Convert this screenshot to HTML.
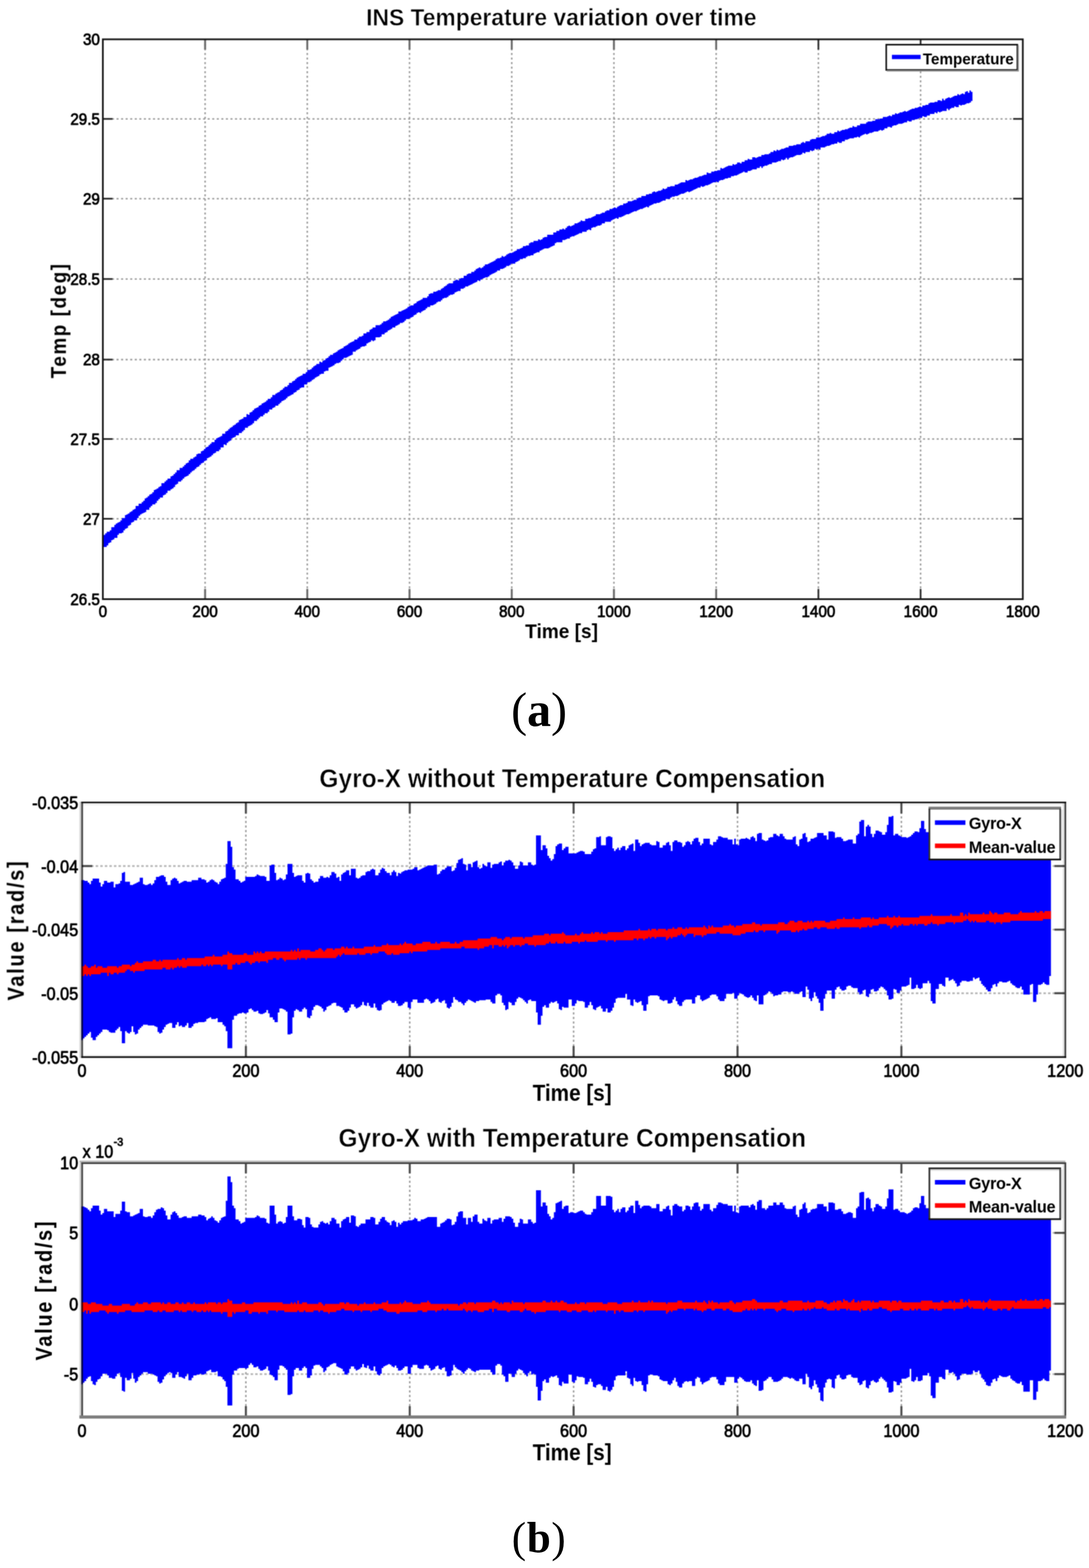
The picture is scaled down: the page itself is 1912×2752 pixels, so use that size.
<!DOCTYPE html>
<html lang="en"><head><meta charset="utf-8"><title>INS temperature variation and Gyro-X temperature compensation</title>
<style>html,body{margin:0;padding:0;background:#fff}body{width:1912px;height:2752px;overflow:hidden}svg{display:block}text{font-family:"Liberation Sans", Arial, Helvetica, sans-serif;font-weight:bold;fill:#000}text.tt{stroke:#fff;stroke-width:0.7px}text.k{font-weight:normal;stroke:#000;stroke-width:1.1px;stroke-linejoin:round}text.kb{font-weight:bold}text.cap{font-family:"Liberation Serif", "Times New Roman", serif;font-weight:normal}.g{stroke:#9a9a9a;stroke-width:2.6;stroke-dasharray:3.6 4.4}.gh{stroke:#b4b4b4;stroke-width:3;stroke-dasharray:4.4 3.6}.t{stroke:#2a2a2a;stroke-width:3}.tg{stroke:#6a6a6a;stroke-width:3.4}.t2{stroke:#4c4c4c;stroke-width:3.6}.ax{fill:none;stroke:#141414;stroke-width:3}.ax3{fill:none;stroke:#4a4a4a;stroke-width:4.6}.lg{fill:#fff;stroke:#0c0c0c;stroke-width:2.7}.ls{fill:none;stroke:#8a8a8a;stroke-width:2.4}</style>
</head><body>
<svg width="1912" height="2752" viewBox="0 0 1912 2752" role="img" aria-label="INS temperature variation over time, and Gyro-X with and without temperature compensation">
<defs><filter id="b1" filterUnits="userSpaceOnUse" x="0" y="0" width="1912" height="1160" color-interpolation-filters="sRGB"><feConvolveMatrix order="3" kernelMatrix="1 2 1 2 4 2 1 2 1" divisor="16" edgeMode="duplicate" preserveAlpha="false"/></filter><filter id="b2" filterUnits="userSpaceOnUse" x="0" y="1320" width="1912" height="630" color-interpolation-filters="sRGB"><feConvolveMatrix order="3" kernelMatrix="1 2 1 2 4 2 1 2 1" divisor="16" edgeMode="duplicate" preserveAlpha="false"/></filter><filter id="b3" filterUnits="userSpaceOnUse" x="0" y="1950" width="1912" height="640" color-interpolation-filters="sRGB"><feConvolveMatrix order="3" kernelMatrix="1 2 1 2 4 2 1 2 1" divisor="16" edgeMode="duplicate" preserveAlpha="false"/></filter></defs>
<rect width="1912" height="2752" fill="#fff"/>
<g filter="url(#b1)">
<line class="g" x1="360.1" y1="69" x2="360.1" y2="1051.6"/>
<line class="g" x1="539.5" y1="69" x2="539.5" y2="1051.6"/>
<line class="g" x1="719" y1="69" x2="719" y2="1051.6"/>
<line class="g" x1="898.5" y1="69" x2="898.5" y2="1051.6"/>
<line class="g" x1="1077.9" y1="69" x2="1077.9" y2="1051.6"/>
<line class="g" x1="1257.4" y1="69" x2="1257.4" y2="1051.6"/>
<line class="g" x1="1436.9" y1="69" x2="1436.9" y2="1051.6"/>
<line class="g" x1="1616.3" y1="69" x2="1616.3" y2="1051.6"/>
<line class="g" x1="180.6" y1="208.7" x2="1795.8" y2="208.7"/>
<line class="g" x1="180.6" y1="348.7" x2="1795.8" y2="348.7"/>
<line class="g" x1="180.6" y1="489.7" x2="1795.8" y2="489.7"/>
<line class="g" x1="180.6" y1="631.1" x2="1795.8" y2="631.1"/>
<line class="g" x1="180.6" y1="770.5" x2="1795.8" y2="770.5"/>
<line class="g" x1="180.6" y1="910.5" x2="1795.8" y2="910.5"/>
<line class="t tg" x1="360.1" y1="1051.6" x2="360.1" y2="1033.6"/>
<line class="t tg" x1="360.1" y1="69" x2="360.1" y2="87"/>
<line class="t tg" x1="539.5" y1="1051.6" x2="539.5" y2="1033.6"/>
<line class="t tg" x1="539.5" y1="69" x2="539.5" y2="87"/>
<line class="t tg" x1="719" y1="1051.6" x2="719" y2="1033.6"/>
<line class="t tg" x1="719" y1="69" x2="719" y2="87"/>
<line class="t tg" x1="898.5" y1="1051.6" x2="898.5" y2="1033.6"/>
<line class="t tg" x1="898.5" y1="69" x2="898.5" y2="87"/>
<line class="t tg" x1="1077.9" y1="1051.6" x2="1077.9" y2="1033.6"/>
<line class="t tg" x1="1077.9" y1="69" x2="1077.9" y2="87"/>
<line class="t tg" x1="1257.4" y1="1051.6" x2="1257.4" y2="1033.6"/>
<line class="t tg" x1="1257.4" y1="69" x2="1257.4" y2="87"/>
<line class="t" x1="1436.9" y1="1051.6" x2="1436.9" y2="1033.6"/>
<line class="t" x1="1436.9" y1="69" x2="1436.9" y2="87"/>
<line class="t" x1="1616.3" y1="1051.6" x2="1616.3" y2="1033.6"/>
<line class="t" x1="1616.3" y1="69" x2="1616.3" y2="87"/>
<line class="t" x1="180.6" y1="208.7" x2="197.6" y2="208.7"/>
<line class="t" x1="1795.8" y1="208.7" x2="1778.8" y2="208.7"/>
<line class="t" x1="180.6" y1="348.7" x2="197.6" y2="348.7"/>
<line class="t" x1="1795.8" y1="348.7" x2="1778.8" y2="348.7"/>
<line class="t" x1="180.6" y1="489.7" x2="197.6" y2="489.7"/>
<line class="t" x1="1795.8" y1="489.7" x2="1778.8" y2="489.7"/>
<line class="t" x1="180.6" y1="631.1" x2="197.6" y2="631.1"/>
<line class="t" x1="1795.8" y1="631.1" x2="1778.8" y2="631.1"/>
<line class="t" x1="180.6" y1="770.5" x2="197.6" y2="770.5"/>
<line class="t" x1="1795.8" y1="770.5" x2="1778.8" y2="770.5"/>
<line class="t" x1="180.6" y1="910.5" x2="197.6" y2="910.5"/>
<line class="t" x1="1795.8" y1="910.5" x2="1778.8" y2="910.5"/>
<path fill="#0000ff" d="M179.4 941.3H182.1V938.7H184.7V936H187.4V933.3H192.7V930.7H195.4V925.3H200.7V921.3H203.4V918.7H206.1V917.3H208.7V916H211.4V913.3H214.1V909.3H219.4V904H222.1V902.7H224.7V901.3H227.4V898.7H230.1V897.3H232.7V894.7H235.4V893.3H238.1V888H243.4V884H248.7V881.3H251.4V878.7H254.1V874.7H256.7V873.3H259.4V870.7H262.1V868H264.7V866.7H267.4V864H270.1V860H272.7V858.7H275.4V857.3H278.1V854.7H280.7V853.3H283.4V848H288.7V845.3H291.4V842.7H294.1V840H299.4V836H302.1V834.7H304.7V832H307.4V829.3H310.1V825.3H315.4V821.3H320.7V818.7H323.4V816H326.1V813.3H328.7V812H331.4V808H334.1V805.3H339.4V802.7H342.1V801.3H344.7V797.3H347.4V796H352.7V792H355.4V790.7H358.1V788H360.7V785.3H363.4V784H366.1V781.3H368.7V778.7H371.4V776H376.7V772H379.4V769.3H382.1V768H384.7V766.7H387.4V765.3H390.1V761.3H395.4V757.3H398.1V756H400.7V753.3H403.4V750.7H406.1V749.3H408.7V746.7H411.4V745.3H414.1V742.7H416.7V741.3H419.4V737.3H422.1V736H424.7V734.7H427.4V732H432.7V726.7H435.4V728H438.1V724H440.7V722.7H443.4V720H446.1V717.3H448.7V716H451.4V714.7H454.1V712H456.7V710.7H459.4V708H462.1V706.7H464.7V705.3H467.4V702.7H470.1V700H475.4V697.3H478.1V693.3H483.4V690.7H486.1V689.3H488.7V688H491.4V685.3H494.1V684H496.7V681.3H499.4V678.7H504.7V676H507.4V672H512.7V669.3H515.4V668H518.1V665.3H520.7V662.7H523.4V661.3H526.1V660H528.7V658.7H531.4V656H536.7V653.3H539.4V649.3H544.7V648H547.4V645.3H550.1V642.7H552.7V641.3H555.4V638.7H560.7V634.7H563.4V636H566.1V633.3H568.7V632H571.4V629.3H574.1V628H576.7V625.3H579.4V622.7H584.7V620H587.4V618.7H590.1V617.3H592.7V614.7H595.4V613.3H598.1V612H600.7V610.7H603.4V608H606.1V606.7H608.7V605.3H611.4V602.7H614.1V601.3H616.7V600H619.4V598.7H622.1V596H627.4V593.3H630.1V590.7H635.4V589.3H638.1V585.3H643.4V582.7H648.7V578.7H651.4V577.3H654.1V574.7H659.4V570.7H667.4V569.3H670.1V566.7H672.7V564H678.1V562.7H680.7V561.3H683.4V558.7H686.1V556H688.7V554.7H691.4V553.3H694.1V552H696.7V550.7H699.4V546.7H704.7V545.3H707.4V544H710.1V542.7H712.7V541.3H715.4V538.7H718.1V537.3H720.7V536H726.1V533.3H728.7V532H731.4V529.3H734.1V528H736.7V526.7H739.4V525.3H742.1V522.7H750.1V520H752.7V516H755.4V514.7H760.7V512H766.1V510.7H768.7V509.3H774.1V506.7H776.7V505.3H779.4V502.7H782.1V501.3H784.7V498.7H787.4V497.3H795.4V493.3H798.1V492H800.7V490.7H803.4V492H806.1V489.3H808.7V488H814.1V484H819.4V481.3H822.1V480H827.4V477.3H832.7V474.7H835.4V472H838.1V470.7H840.7V469.3H843.4V470.7H846.1V469.3H848.7V466.7H851.4V464H856.7V462.7H859.4V461.3H862.1V460H864.7V458.7H867.4V457.3H870.1V454.7H872.7V453.3H878.1V452H880.7V449.3H883.4V450.7H886.1V449.3H888.7V446.7H891.4V445.3H894.1V444H899.4V442.7H902.1V441.3H904.7V440H907.4V437.3H912.7V436H915.4V434.7H918.1V432H923.4V430.7H928.7V426.7H931.4V425.3H936.7V422.7H944.7V420H947.4V421.3H950.1V420H952.7V417.3H955.4V416H960.7V412H971.4V408H976.7V405.3H982.1V402.7H987.4V401.3H990.1V402.7H992.7V400H995.4V397.3H998.1V396H1000.7V397.3H1003.4V396H1006.1V394.7H1008.7V392H1014.1V390.7H1016.7V389.3H1019.4V386.7H1022.1V388H1027.4V384H1032.7V382.7H1038.1V381.3H1040.7V380H1043.4V378.7H1046.1V376H1054.1V374.7H1056.7V373.3H1062.1V370.7H1064.7V369.3H1070.1V366.7H1075.4V365.3H1078.1V364H1080.7V365.3H1083.4V362.7H1086.1V361.3H1088.7V360H1094.1V357.3H1099.4V356H1102.1V353.3H1110.1V352H1112.7V350.7H1118.1V348H1120.7V346.7H1126.1V344H1134.1V341.3H1139.4V340H1144.7V337.3H1147.4V336H1150.1V337.3H1152.7V336H1155.4V334.7H1160.7V333.3H1163.4V330.7H1166.1V332H1168.7V330.7H1171.4V328H1176.7V326.7H1184.7V324H1190.1V322.7H1192.7V321.3H1195.4V320H1203.4V316H1206.1V317.3H1208.7V316H1211.4V314.7H1216.7V313.3H1219.4V312H1224.7V310.7H1227.4V309.3H1232.7V308H1235.4V306.7H1240.7V302.7H1243.4V304H1248.7V301.3H1254.1V300H1259.4V298.7H1264.7V294.7H1267.4V296H1270.1V294.7H1272.7V293.3H1275.4V292H1278.1V290.7H1286.1V288H1288.7V289.3H1291.4V288H1294.1V285.3H1299.4V286.7H1302.1V284H1307.4V281.3H1312.7V278.7H1315.4V280H1320.7V276H1326.1V277.3H1328.7V276H1331.4V274.7H1336.7V272H1342.1V270.7H1350.1V269.3H1352.7V266.7H1358.1V264H1360.7V265.3H1363.4V262.7H1366.1V264H1368.7V262.7H1371.4V261.3H1376.7V260H1379.4V258.7H1384.7V256H1392.7V254.7H1398.1V253.3H1406.1V250.7H1408.7V249.3H1411.4V250.7H1414.1V248H1422.1V245.3H1424.7V244H1432.7V241.3H1440.7V240H1443.4V238.7H1448.7V237.3H1451.4V234.7H1456.7V233.3H1459.4V234.7H1464.7V232H1470.1V229.3H1472.7V230.7H1475.4V229.3H1478.1V228H1483.4V226.7H1488.7V225.3H1491.4V224H1496.7V221.3H1499.4V222.7H1504.7V220H1510.1V217.3H1520.7V214.7H1523.4V213.3H1531.4V212H1536.7V209.3H1544.7V208H1550.1V205.3H1558.1V204H1560.7V202.7H1563.4V204H1566.1V201.3H1571.4V198.7H1574.1V200H1576.7V198.7H1579.4V197.3H1584.7V196H1587.4V194.7H1590.1V196H1592.7V194.7H1595.4V193.3H1598.1V192H1600.7V190.7H1606.1V189.3H1611.4V188H1614.1V186.7H1616.7V188H1619.4V185.3H1624.7V184H1630.1V181.3H1632.7V180H1640.7V178.7H1646.1V176H1651.4V177.3H1654.1V173.3H1656.7V176H1659.4V173.3H1662.1V172H1664.7V170.7H1667.4V172H1670.1V170.7H1672.7V169.3H1675.4V168H1680.7V165.3H1683.4V166.7H1686.1V165.3H1688.7V164H1691.4V165.3H1694.1V161.3H1696.7V160H1699.4V162.7H1702.1V158.7H1704.7V161.3H1707.4V177.3H1704.7V180H1702.1V181.3H1696.7V182.7H1694.1V184H1688.7V185.3H1686.1V184H1683.4V188H1678.1V186.7H1675.4V189.3H1670.1V190.7H1667.4V193.3H1664.7V190.7H1662.1V194.7H1654.1V196H1651.4V197.3H1648.7V196H1646.1V198.7H1643.4V197.3H1640.7V200H1632.7V202.7H1627.4V205.3H1622.1V204H1619.4V206.7H1614.1V208H1611.4V209.3H1606.1V210.7H1600.7V213.3H1595.4V212H1592.7V214.7H1587.4V216H1584.7V217.3H1576.7V218.7H1574.1V220H1568.7V221.3H1566.1V224H1563.4V222.7H1558.1V225.3H1552.7V228H1550.1V229.3H1547.4V228H1544.7V229.3H1542.1V230.7H1534.1V232H1531.4V233.3H1526.1V234.7H1523.4V236H1520.7V234.7H1518.1V236H1515.4V237.3H1512.7V238.7H1510.1V241.3H1507.4V240H1504.7V241.3H1499.4V242.7H1491.4V244H1488.7V245.3H1483.4V248H1478.1V250.7H1472.7V249.3H1470.1V252H1464.7V253.3H1459.4V254.7H1456.7V256H1451.4V257.3H1448.7V258.7H1440.7V262.7H1438.1V261.3H1435.4V262.7H1432.7V261.3H1430.1V264H1427.4V265.3H1424.7V264H1422.1V266.7H1414.1V269.3H1411.4V268H1408.7V270.7H1406.1V272H1398.1V273.3H1395.4V274.7H1392.7V276H1387.4V277.3H1384.7V280H1382.1V277.3H1379.4V280H1376.7V281.3H1374.1V280H1371.4V282.7H1366.1V284H1363.4V285.3H1355.4V288H1350.1V289.3H1347.4V290.7H1342.1V292H1339.4V294.7H1336.7V292H1334.1V294.7H1328.7V297.3H1320.7V298.7H1318.1V300H1312.7V302.7H1307.4V301.3H1304.7V302.7H1302.1V304H1299.4V305.3H1296.7V306.7H1294.1V308H1288.7V309.3H1283.4V312H1278.1V313.3H1272.7V314.7H1270.1V316H1264.7V317.3H1262.1V320H1259.4V318.7H1256.7V320H1251.4V321.3H1248.7V322.7H1246.1V324H1243.4V325.3H1238.1V326.7H1235.4V328H1232.7V326.7H1230.1V329.3H1224.7V330.7H1222.1V332H1219.4V333.3H1216.7V334.7H1214.1V336H1211.4V337.3H1208.7V336H1206.1V337.3H1203.4V338.7H1200.7V340H1195.4V341.3H1192.7V342.7H1190.1V344H1184.7V345.3H1179.4V346.7H1176.7V349.3H1168.7V352H1163.4V353.3H1160.7V354.7H1158.1V356H1152.7V357.3H1147.4V358.7H1144.7V360H1142.1V361.3H1139.4V364H1136.7V362.7H1134.1V364H1131.4V365.3H1128.7V366.7H1123.4V368H1120.7V369.3H1118.1V370.7H1112.7V372H1110.1V373.3H1107.4V374.7H1104.7V376H1099.4V377.3H1096.7V378.7H1094.1V380H1091.4V381.3H1086.1V384H1083.4V382.7H1080.7V384H1078.1V385.3H1075.4V386.7H1072.7V389.3H1062.1V392H1056.7V394.7H1054.1V396H1048.7V397.3H1046.1V398.7H1040.7V400H1038.1V404H1035.4V402.7H1032.7V404H1030.1V406.7H1022.1V409.3H1016.7V410.7H1014.1V412H1011.4V413.3H1008.7V414.7H1003.4V416H1000.7V418.7H995.4V420H992.7V421.3H987.4V425.3H976.7V426.7H974.1V430.7H971.4V432H968.7V433.3H966.1V434.7H963.4V436H955.4V437.3H952.7V438.7H950.1V440H947.4V442.7H942.1V444H939.4V445.3H936.7V448H931.4V449.3H926.1V450.7H923.4V453.3H918.1V454.7H912.7V457.3H910.1V458.7H907.4V460H904.7V462.7H896.7V465.3H894.1V466.7H888.7V469.3H886.1V470.7H883.4V472H878.1V474.7H872.7V477.3H870.1V478.7H867.4V480H864.7V481.3H862.1V482.7H859.4V485.3H856.7V486.7H851.4V488H848.7V489.3H846.1V490.7H843.4V493.3H840.7V492H838.1V494.7H835.4V496H832.7V497.3H830.1V498.7H827.4V500H824.7V501.3H822.1V502.7H816.7V505.3H814.1V506.7H808.7V510.7H803.4V512H800.7V513.3H798.1V516H795.4V517.3H790.1V518.7H787.4V521.3H784.7V522.7H779.4V524H776.7V526.7H774.1V529.3H768.7V530.7H766.1V533.3H763.4V534.7H760.7V536H755.4V538.7H750.1V541.3H747.4V544H744.7V545.3H742.1V546.7H739.4V549.3H736.7V548H734.1V549.3H731.4V552H728.7V553.3H726.1V556H723.4V557.3H720.7V558.7H718.1V560H712.7V562.7H710.1V565.3H707.4V566.7H702.1V569.3H699.4V570.7H696.7V572H694.1V574.7H688.7V577.3H686.1V578.7H683.4V580H680.7V582.7H678.1V584H675.4V586.7H670.1V590.7H667.4V592H659.4V597.3H656.7V598.7H654.1V597.3H651.4V600H648.7V601.3H646.1V602.7H643.4V606.7H640.7V608H635.4V609.3H632.7V612H630.1V613.3H627.4V614.7H624.7V617.3H619.4V622.7H616.7V624H614.1V625.3H611.4V626.7H608.7V628H603.4V630.7H600.7V633.3H598.1V636H595.4V637.3H590.1V638.7H587.4V641.3H584.7V642.7H582.1V644H579.4V645.3H576.7V650.7H571.4V652H568.7V656H563.4V657.3H560.7V660H558.1V661.3H555.4V662.7H552.7V665.3H550.1V666.7H547.4V669.3H544.7V670.7H539.4V674.7H534.1V680H528.7V681.3H526.1V684H523.4V685.3H520.7V688H518.1V689.3H515.4V692H512.7V693.3H510.1V694.7H507.4V696H504.7V698.7H502.1V701.3H499.4V702.7H496.7V704H494.1V706.7H491.4V709.3H488.7V712H483.4V714.7H480.7V716H478.1V718.7H472.7V722.7H470.1V725.3H464.7V728H462.1V730.7H456.7V733.3H454.1V736H451.4V738.7H446.1V742.7H443.4V745.3H440.7V746.7H438.1V748H435.4V750.7H430.1V754.7H427.4V757.3H424.7V760H419.4V764H414.1V766.7H411.4V768H408.7V769.3H406.1V773.3H403.4V774.7H400.7V777.3H398.1V781.3H395.4V780H392.7V785.3H387.4V789.3H384.7V792H379.4V794.7H376.7V796H374.1V798.7H371.4V801.3H368.7V802.7H366.1V804H363.4V808H360.7V809.3H358.1V812H355.4V813.3H352.7V816H350.1V818.7H347.4V820H344.7V822.7H342.1V825.3H339.4V826.7H336.7V829.3H334.1V832H331.4V834.7H328.7V836H326.1V837.3H323.4V840H320.7V842.7H318.1V845.3H312.7V849.3H310.1V850.7H307.4V854.7H304.7V857.3H302.1V858.7H299.4V861.3H294.1V865.3H291.4V868H288.7V869.3H286.1V873.3H280.7V876H278.1V878.7H275.4V882.7H272.7V885.3H267.4V888H264.7V890.7H262.1V894.7H256.7V898.7H254.1V900H251.4V901.3H248.7V902.7H246.1V905.3H243.4V909.3H240.7V913.3H235.4V916H232.7V917.3H230.1V921.3H227.4V922.7H224.7V926.7H222.1V928H219.4V930.7H216.7V934.7H214.1V936H208.7V938.7H206.1V944H200.7V946.7H198.1V948H195.4V952H192.7V953.3H190.1V957.3H187.4V960H182.1V964H179.4Z"/>
<rect class="ax" x="180.6" y="69" width="1615.2" height="982.6"/>
<text transform="translate(180.6 1083) scale(1 1.1)" font-size="26.7" text-anchor="middle" class="k">0</text>
<text transform="translate(360.1 1083) scale(1 1.1)" font-size="26.7" text-anchor="middle" class="k">200</text>
<text transform="translate(539.5 1083) scale(1 1.1)" font-size="26.7" text-anchor="middle" class="k">400</text>
<text transform="translate(719 1083) scale(1 1.1)" font-size="26.7" text-anchor="middle" class="k">600</text>
<text transform="translate(898.5 1083) scale(1 1.1)" font-size="26.7" text-anchor="middle" class="k">800</text>
<text transform="translate(1077.9 1083) scale(1 1.1)" font-size="26.7" text-anchor="middle" class="k">1000</text>
<text transform="translate(1257.4 1083) scale(1 1.1)" font-size="26.7" text-anchor="middle" class="k">1200</text>
<text transform="translate(1436.9 1083) scale(1 1.1)" font-size="26.7" text-anchor="middle" class="k">1400</text>
<text transform="translate(1616.3 1083) scale(1 1.1)" font-size="26.7" text-anchor="middle" class="k">1600</text>
<text transform="translate(1795.8 1083) scale(1 1.1)" font-size="26.7" text-anchor="middle" class="k">1800</text>
<text transform="translate(175.4 79.3) scale(1 1.1)" font-size="26.7" text-anchor="end" class="k">30</text>
<text transform="translate(175.4 219) scale(1 1.1)" font-size="26.7" text-anchor="end" class="k">29.5</text>
<text transform="translate(175.4 359) scale(1 1.1)" font-size="26.7" text-anchor="end" class="k">29</text>
<text transform="translate(175.4 500) scale(1 1.1)" font-size="26.7" text-anchor="end" class="k">28.5</text>
<text transform="translate(175.4 641.4) scale(1 1.1)" font-size="26.7" text-anchor="end" class="k">28</text>
<text transform="translate(175.4 780.8) scale(1 1.1)" font-size="26.7" text-anchor="end" class="k">27.5</text>
<text transform="translate(175.4 920.8) scale(1 1.1)" font-size="26.7" text-anchor="end" class="k">27</text>
<text transform="translate(175.4 1061.9) scale(1 1.1)" font-size="26.7" text-anchor="end" class="k">26.5</text>
<text transform="translate(985.5 45.4) scale(1 1.08)" font-size="40.1" text-anchor="middle" class="tt">INS Temperature variation over time</text>
<text transform="translate(986 1120) scale(1 1.06)" font-size="33.5" text-anchor="middle">Time [s]</text>
<text transform="translate(116.2 562.2) rotate(-90) scale(1 1.14)" font-size="33" text-anchor="middle" letter-spacing="2.8">Temp [deg]</text>
<rect class="lg" x="1556" y="78.4" width="230.2" height="44.4"/>
<path class="ls" d="M1557 124.2H1787.6V79.5"/>
<line x1="1566" y1="100" x2="1616.4" y2="100" stroke="#0000ff" stroke-width="7.6"/>
<text transform="translate(1620.3 112.6) scale(1 1.04)" font-size="26.7" class="kb">Temperature</text>
</g>
<g filter="url(#b2)">
<line class="g" x1="431.7" y1="1408.8" x2="431.7" y2="1854.9"/>
<line class="g" x1="719.4" y1="1408.8" x2="719.4" y2="1854.9"/>
<line class="g" x1="1007.1" y1="1408.8" x2="1007.1" y2="1854.9"/>
<line class="g" x1="1294.9" y1="1408.8" x2="1294.9" y2="1854.9"/>
<line class="g" x1="1582.6" y1="1408.8" x2="1582.6" y2="1854.9"/>
<line class="g gh" x1="144" y1="1520" x2="1870.3" y2="1520"/>
<line class="g gh" x1="144" y1="1631.6" x2="1870.3" y2="1631.6"/>
<line class="g gh" x1="144" y1="1743.2" x2="1870.3" y2="1743.2"/>
<line class="t2" x1="431.7" y1="1854.9" x2="431.7" y2="1835.9"/>
<line class="t2" x1="431.7" y1="1408.8" x2="431.7" y2="1427.8"/>
<line class="t2" x1="719.4" y1="1854.9" x2="719.4" y2="1835.9"/>
<line class="t2" x1="719.4" y1="1408.8" x2="719.4" y2="1427.8"/>
<line class="t2" x1="1007.1" y1="1854.9" x2="1007.1" y2="1835.9"/>
<line class="t2" x1="1007.1" y1="1408.8" x2="1007.1" y2="1427.8"/>
<line class="t2" x1="1294.9" y1="1854.9" x2="1294.9" y2="1835.9"/>
<line class="t2" x1="1294.9" y1="1408.8" x2="1294.9" y2="1427.8"/>
<line class="t2" x1="1582.6" y1="1854.9" x2="1582.6" y2="1835.9"/>
<line class="t2" x1="1582.6" y1="1408.8" x2="1582.6" y2="1427.8"/>
<line class="t2" x1="144" y1="1520" x2="162" y2="1520"/>
<line class="t2" x1="1870.3" y1="1520" x2="1851.3" y2="1520"/>
<line class="t2" x1="144" y1="1631.6" x2="162" y2="1631.6"/>
<line class="t2" x1="1870.3" y1="1631.6" x2="1851.3" y2="1631.6"/>
<line class="t2" x1="144" y1="1743.2" x2="162" y2="1743.2"/>
<line class="t2" x1="1870.3" y1="1743.2" x2="1851.3" y2="1743.2"/>
<path fill="#0000ff" d="M142.6 1544.7H148.3V1546.1H154V1549H156.9V1551.8H159.7V1546.1H162.6V1541.9H174V1549H176.8V1556.1H179.7V1551.8H182.5V1546.1H188.2V1549H193.9V1547.5H199.6V1557.5H202.5V1551.8H208.2V1550.4H211V1546.1H213.9V1531.9H216.8V1530.5H219.6V1547.5H228.2V1553.2H233.9V1551.8H236.7V1550.4H239.6V1549H242.4V1547.5H245.3V1540.4H251V1551.8H253.8V1553.2H259.5V1551.8H262.4V1550.4H265.2V1553.2H268.1V1550.4H270.9V1544.7H273.8V1539H279.5V1537.6H282.3V1536.2H288V1539H290.9V1547.5H293.8V1553.2H299.5V1544.7H302.3V1541.9H305.2V1540.4H308V1541.9H310.9V1546.1H313.7V1550.4H316.6V1549H319.4V1547.5H322.3V1546.1H328V1547.5H336.5V1544.7H347.9V1540.4H353.6V1543.3H359.3V1544.7H362.2V1549H365.1V1547.5H367.9V1544.7H370.8V1543.3H373.6V1544.7H376.5V1547.5H379.3V1549H382.2V1551.8H385V1547.5H387.9V1543.3H390.7V1541.9H393.6V1540.4H396.4V1516.2H399.3V1476.3H405V1486.3H407.8V1521.9H410.7V1526.2H413.5V1543.3H419.2V1546.1H422.1V1549H424.9V1547.5H427.8V1546.1H430.6V1539H447.8V1537.6H450.6V1534.7H453.5V1536.2H456.3V1537.6H464.9V1539H467.7V1546.1H473.4V1519H476.3V1517.6H482V1531.9H484.8V1544.7H487.7V1543.3H490.5V1540.4H493.4V1541.9H496.2V1544.7H499.1V1543.3H501.9V1534.7H504.8V1516.2H513.4V1531.9H516.2V1539H519.1V1537.6H521.9V1536.2H530.5V1546.1H533.3V1549H536.2V1533.3H539V1531.9H541.9V1533.3H544.7V1543.3H547.6V1546.1H550.4V1549H553.3V1547.5H559V1541.9H561.8V1537.6H567.5V1540.4H573.2V1539H576.1V1540.4H578.9V1536.2H581.8V1530.5H587.5V1533.3H590.4V1540.4H593.2V1539H596.1V1546.1H598.9V1534.7H601.8V1531.9H604.6V1530.5H607.5V1527.6H613.2V1536.2H616V1524.8H624.6V1540.4H627.4V1541.9H630.3V1540.4H633.1V1537.6H636V1536.2H641.7V1530.5H644.5V1529H650.2V1526.2H653.1V1524.8H655.9V1526.2H658.8V1536.2H664.5V1531.9H667.4V1526.2H670.2V1523.3H673.1V1524.8H675.9V1529H678.8V1531.9H684.5V1536.2H687.3V1530.5H690.2V1527.6H693V1530.5H695.9V1537.6H698.7V1531.9H701.6V1533.3H704.4V1530.5H707.3V1529H710.1V1527.6H715.8V1526.2H724.4V1524.8H727.2V1521.9H732.9V1527.6H735.8V1526.2H738.7V1524.8H741.5V1523.3H744.4V1521.9H747.2V1520.5H750.1V1519H761.5V1517.6H767.2V1534.7H770V1533.3H772.9V1529H775.7V1526.2H781.4V1523.3H784.3V1520.5H792.8V1529H795.7V1527.6H798.5V1523.3H801.4V1514.8H804.2V1509.1H807.1V1507.7H810V1506.2H812.8V1516.2H815.7V1517.6H818.5V1527.6H821.4V1516.2H827.1V1521.9H829.9V1513.4H832.8V1511.9H835.6V1510.5H838.5V1521.9H841.3V1524.8H844.2V1523.3H847V1516.2H849.9V1519H852.7V1520.5H855.6V1513.4H861.3V1523.3H864.1V1517.6H867V1516.2H875.5V1513.4H878.4V1511.9H881.2V1519H884.1V1513.4H887V1510.5H892.7V1509.1H895.5V1510.5H898.4V1513.4H901.2V1519H904.1V1524.8H909.8V1519H912.6V1511.9H915.5V1513.4H918.3V1519H926.9V1513.4H932.6V1517.6H935.4V1519H938.3V1517.6H941.1V1466.3H949.7V1492H952.5V1483.4H958.3V1489.1H961.1V1502H964V1506.2H966.8V1510.5H969.7V1507.7H972.5V1499.1H975.4V1484.9H978.2V1482H981.1V1480.6H986.8V1492H989.6V1489.1H992.5V1486.3H998.2V1497.7H1012.4V1496.2H1015.3V1494.8H1018.1V1493.4H1023.8V1494.8H1026.7V1499.1H1038.1V1494.8H1041V1490.5H1043.8V1489.1H1046.7V1469.2H1052.4V1467.8H1055.2V1483.4H1063.8V1469.2H1066.6V1467.8H1072.3V1469.2H1075.2V1489.1H1078V1493.4H1080.9V1490.5H1083.7V1487.7H1086.6V1492H1089.4V1487.7H1092.3V1484.9H1098V1492H1100.8V1489.1H1103.7V1483.4H1106.6V1482H1109.4V1480.6H1112.3V1493.4H1115.1V1473.5H1120.8V1479.2H1123.7V1484.9H1126.5V1482H1129.4V1480.6H1132.2V1479.2H1140.8V1482H1143.6V1483.4H1152.2V1476.3H1155V1477.7H1157.9V1487.7H1163.6V1483.4H1169.3V1479.2H1172.1V1477.7H1175V1483.4H1177.8V1493.4H1180.7V1477.7H1183.6V1474.9H1189.3V1477.7H1195V1479.2H1197.8V1486.3H1200.7V1483.4H1203.5V1477.7H1206.4V1476.3H1209.2V1477.7H1212.1V1482H1214.9V1476.3H1217.8V1472H1220.6V1470.6H1226.3V1477.7H1229.2V1483.4H1232V1480.6H1234.9V1472H1246.3V1482H1249.1V1483.4H1252V1477.7H1257.7V1473.5H1260.6V1467.8H1266.3V1469.2H1269.1V1470.6H1277.7V1473.5H1286.2V1482H1289.1V1472H1291.9V1482H1294.8V1483.4H1297.6V1473.5H1300.5V1472H1309V1470.6H1311.9V1472H1314.7V1473.5H1317.6V1469.2H1320.4V1467.8H1323.3V1470.6H1326.1V1476.3H1329V1463.5H1331.9V1462H1337.6V1473.5H1340.4V1474.9H1343.3V1476.3H1346.1V1474.9H1349V1470.6H1351.8V1469.2H1357.5V1463.5H1363.2V1466.3H1366.1V1467.8H1368.9V1463.5H1374.6V1467.8H1377.5V1472H1380.3V1473.5H1391.7V1469.2H1394.6V1467.8H1397.4V1482H1400.3V1484.9H1403.2V1473.5H1406V1472H1408.9V1463.5H1411.7V1462H1414.6V1469.2H1417.4V1477.7H1420.3V1476.3H1423.1V1472H1428.8V1470.6H1431.7V1469.2H1434.5V1462H1445.9V1466.3H1451.6V1473.5H1454.5V1459.2H1463V1460.6H1465.9V1470.6H1468.7V1469.2H1477.3V1472H1480.2V1476.3H1485.9V1474.9H1488.7V1473.5H1497.3V1480.6H1503V1466.3H1505.8V1463.5H1508.7V1442.1H1511.5V1439.2H1517.2V1467.8H1520.1V1450.7H1522.9V1447.8H1525.8V1450.7H1528.6V1463.5H1531.5V1469.2H1534.3V1463.5H1537.2V1457.8H1542.9V1459.2H1545.7V1460.6H1548.6V1464.9H1554.3V1460.6H1557.2V1447.8H1560V1433.5H1565.7V1432.1H1568.6V1466.3H1571.4V1463.5H1577.1V1466.3H1580V1467.8H1582.8V1469.2H1591.4V1470.6H1594.2V1469.2H1597.1V1467.8H1599.9V1464.9H1602.8V1462H1605.6V1459.2H1611.3V1460.6H1614.2V1453.5H1617V1440.7H1622.7V1454.9H1625.6V1460.6H1631.3V1459.2H1634.2V1457.8H1637V1459.2H1639.9V1460.6H1642.7V1462H1645.6V1457.8H1648.4V1456.4H1654.1V1457.8H1657V1462H1662.7V1459.2H1665.5V1457.8H1668.4V1456.4H1674.1V1450.7H1676.9V1446.4H1679.8V1447.8H1685.5V1459.2H1688.3V1457.8H1696.9V1459.2H1699.8V1462H1702.6V1460.6H1705.5V1457.8H1708.3V1456.4H1711.2V1454.9H1716.9V1453.5H1719.7V1456.4H1722.6V1457.8H1728.3V1456.4H1731.1V1454.9H1734V1450.7H1736.8V1447.8H1745.4V1457.8H1751.1V1459.2H1753.9V1457.8H1756.8V1456.4H1759.6V1453.5H1768.2V1452.1H1771V1454.9H1773.9V1456.4H1776.8V1457.8H1779.6V1456.4H1782.5V1453.5H1793.9V1450.7H1796.7V1449.2H1799.6V1447.8H1805.3V1452.1H1808.1V1456.4H1811V1454.9H1813.8V1453.5H1819.5V1454.9H1822.4V1456.4H1828.1V1453.5H1830.9V1452.1H1845.2V1712.9H1842.3V1728.5H1836.6V1727.1H1833.8V1724.2H1830.9V1727.1H1828.1V1728.5H1822.4V1745.6H1819.5V1758.5H1813.8V1727.1H1811V1728.5H1808.1V1745.6H1796.7V1737.1H1793.9V1731.4H1791V1734.2H1785.3V1732.8H1782.5V1730H1779.6V1728.5H1776.8V1725.7H1773.9V1721.4H1771V1722.8H1768.2V1724.2H1759.6V1722.8H1753.9V1725.7H1751.1V1731.4H1748.2V1727.1H1745.4V1728.5H1742.5V1734.2H1739.7V1739.9H1734V1737.1H1731.1V1732.8H1728.3V1730H1725.4V1727.1H1722.6V1721.4H1719.7V1715.7H1716.9V1717.1H1714V1718.5H1711.2V1715.7H1708.3V1721.4H1702.6V1722.8H1696.9V1721.4H1688.3V1724.2H1685.5V1730H1682.6V1731.4H1679.8V1725.7H1676.9V1721.4H1674.1V1718.5H1671.2V1720H1668.4V1721.4H1665.5V1715.7H1659.8V1731.4H1657V1730H1654.1V1727.1H1648.4V1735.7H1642.7V1761.3H1637V1757H1634.2V1725.7H1631.3V1721.4H1628.5V1725.7H1619.9V1734.2H1617V1735.7H1614.2V1734.2H1611.3V1728.5H1608.5V1734.2H1605.6V1735.7H1599.9V1715.7H1597.1V1728.5H1594.2V1730H1591.4V1731.4H1582.8V1738.5H1580V1742.8H1574.3V1737.1H1571.4V1735.7H1568.6V1752.8H1565.7V1754.2H1560V1747H1557.2V1738.5H1554.3V1735.7H1551.5V1732.8H1548.6V1731.4H1545.7V1734.2H1542.9V1738.5H1540V1739.9H1534.3V1735.7H1531.5V1737.1H1528.6V1744.2H1525.8V1749.9H1522.9V1748.5H1520.1V1737.1H1517.2V1738.5H1514.4V1744.2H1511.5V1745.6H1508.7V1741.4H1505.8V1734.2H1497.3V1732.8H1494.4V1730H1488.7V1731.4H1485.9V1737.1H1483V1738.5H1477.3V1735.7H1474.4V1731.4H1471.6V1732.8H1468.7V1737.1H1465.9V1752.8H1460.2V1738.5H1451.6V1744.2H1448.8V1752.8H1445.9V1774.1H1440.2V1759.9H1437.4V1752.8H1434.5V1748.5H1431.7V1741.4H1428.8V1751.3H1426V1757H1423.1V1752.8H1420.3V1737.1H1417.4V1731.4H1414.6V1749.9H1408.9V1739.9H1406V1741.4H1403.2V1744.2H1394.6V1741.4H1391.7V1739.9H1388.9V1741.4H1383.2V1739.9H1374.6V1741.4H1371.8V1745.6H1366.1V1747H1360.4V1748.5H1357.5V1744.2H1354.7V1741.4H1351.8V1739.9H1349V1742.8H1346.1V1745.6H1343.3V1747H1340.4V1762.7H1331.9V1747H1329V1757H1326.1V1755.6H1323.3V1751.3H1320.4V1747H1317.6V1749.9H1314.7V1751.3H1311.9V1749.9H1309V1748.5H1306.2V1745.6H1303.3V1744.2H1300.5V1742.8H1297.6V1747H1294.8V1752.8H1289.1V1742.8H1286.2V1744.2H1274.8V1752.8H1272V1757H1263.4V1754.2H1260.6V1748.5H1257.7V1745.6H1249.1V1747H1246.3V1751.3H1243.4V1752.8H1240.6V1754.2H1237.7V1755.6H1234.9V1757H1232V1754.2H1229.2V1747H1223.5V1749.9H1220.6V1761.3H1214.9V1754.2H1203.5V1755.6H1200.7V1758.5H1197.8V1765.6H1192.1V1762.7H1189.3V1757H1186.4V1749.9H1183.6V1754.2H1180.7V1759.9H1177.8V1761.3H1172.1V1755.6H1166.4V1757H1163.6V1755.6H1160.7V1754.2H1157.9V1748.5H1155V1747H1140.8V1748.5H1137.9V1762.7H1135.1V1774.1H1129.4V1764.2H1126.5V1757H1123.7V1758.5H1120.8V1759.9H1118V1758.5H1115.1V1754.2H1112.3V1765.6H1109.4V1764.2H1106.6V1754.2H1100.8V1744.2H1098V1751.3H1083.7V1752.8H1080.9V1759.9H1078V1768.4H1075.2V1774.1H1072.3V1777H1066.6V1769.9H1063.8V1775.5H1058.1V1769.9H1055.2V1765.6H1052.4V1767H1049.5V1768.4H1046.7V1772.7H1043.8V1771.3H1041V1764.2H1038.1V1758.5H1035.3V1764.2H1032.4V1768.4H1026.7V1758.5H1023.8V1757H1015.3V1755.6H1012.4V1761.3H1009.6V1765.6H1003.9V1754.2H998.2V1768.4H989.6V1767H986.8V1772.7H983.9V1771.3H981.1V1761.3H978.2V1757H975.4V1758.5H972.5V1759.9H969.7V1758.5H966.8V1761.3H964V1768.4H958.3V1764.2H955.4V1767H952.5V1782.7H949.7V1798.4H944V1777H941.1V1757H932.6V1754.2H929.7V1755.6H926.9V1761.3H924V1758.5H921.2V1755.6H918.3V1752.8H915.5V1751.3H912.6V1749.9H909.8V1752.8H906.9V1758.5H904.1V1764.2H898.4V1759.9H895.5V1758.5H892.7V1771.3H889.8V1772.7H887V1764.2H884.1V1759.9H881.2V1747H878.4V1744.2H872.7V1747H869.8V1761.3H864.1V1758.5H861.3V1754.2H852.7V1755.6H841.3V1757H835.6V1759.9H832.8V1758.5H829.9V1757H827.1V1755.6H824.2V1754.2H821.4V1757H818.5V1759.9H815.7V1764.2H812.8V1761.3H810V1758.5H804.2V1755.6H801.4V1754.2H798.5V1749.9H795.7V1759.9H792.8V1767H790V1769.9H787.1V1768.4H784.3V1761.3H781.4V1755.6H778.6V1757H775.7V1759.9H772.9V1758.5H770V1752.8H767.2V1754.2H764.3V1758.5H761.5V1759.9H758.6V1761.3H755.8V1757H752.9V1754.2H750.1V1752.8H747.2V1754.2H744.4V1759.9H732.9V1754.2H724.4V1758.5H721.5V1769.9H718.7V1768.4H715.8V1758.5H710.1V1761.3H707.3V1764.2H704.4V1765.6H698.7V1761.3H695.9V1757H693V1759.9H687.3V1757H684.5V1755.6H681.6V1757H678.8V1758.5H675.9V1759.9H673.1V1762.7H670.2V1772.7H667.4V1774.1H664.5V1772.7H661.7V1768.4H658.8V1761.3H655.9V1768.4H650.2V1765.6H647.4V1759.9H644.5V1765.6H641.7V1764.2H638.8V1758.5H636V1764.2H633.1V1767H630.3V1768.4H627.4V1769.9H624.6V1767H621.7V1762.7H616V1768.4H613.2V1774.1H610.3V1777H604.6V1772.7H601.8V1768.4H598.9V1767H596.1V1765.6H590.4V1759.9H584.6V1761.3H581.8V1764.2H578.9V1765.6H576.1V1767H573.2V1772.7H570.4V1775.5H567.5V1769.9H564.7V1767H561.8V1765.6H559V1764.2H553.3V1767H550.4V1772.7H547.6V1782.7H544.7V1787H541.9V1785.5H539V1771.3H536.2V1768.4H533.3V1771.3H530.5V1775.5H524.8V1772.7H521.9V1771.3H519.1V1774.1H516.2V1785.5H513.4V1814H510.5V1815.5H504.8V1775.5H501.9V1772.7H499.1V1771.3H496.2V1769.9H490.5V1777H487.7V1794.1H482V1789.8H479.1V1785.5H473.4V1778.4H470.6V1772.7H467.7V1777H464.9V1778.4H462V1779.8H456.3V1778.4H453.5V1774.1H450.6V1775.5H444.9V1772.7H442.1V1769.9H439.2V1771.3H436.3V1777H433.5V1778.4H427.8V1777H424.9V1778.4H419.2V1779.8H416.4V1782.7H410.7V1789.8H407.8V1839.7H399.3V1809.8H396.4V1801.2H393.6V1798.4H390.7V1794.1H382.2V1787H379.3V1788.4H370.8V1785.5H367.9V1787H365.1V1788.4H362.2V1792.7H359.3V1794.1H347.9V1795.5H342.2V1796.9H339.4V1801.2H336.5V1804H330.8V1795.5H328V1799.8H325.1V1802.6H319.4V1799.8H316.6V1801.2H313.7V1794.1H310.9V1798.4H308V1804H302.3V1795.5H296.6V1796.9H293.8V1798.4H290.9V1802.6H288V1806.9H285.2V1812.6H282.3V1814H279.5V1811.2H276.6V1802.6H273.8V1801.2H270.9V1799.8H259.5V1798.4H251V1801.2H248.1V1804H245.3V1806.9H242.4V1814H239.6V1815.5H236.7V1811.2H233.9V1801.2H231V1811.2H228.2V1814H225.3V1812.6H222.5V1809.8H219.6V1831.1H213.9V1809.8H211V1802.6H208.2V1805.5H205.3V1808.3H202.5V1812.6H193.9V1811.2H191.1V1808.3H188.2V1806.9H179.7V1811.2H176.8V1814H174V1816.9H171.1V1819.7H168.3V1825.4H162.6V1821.2H159.7V1811.2H156.9V1814H154V1816.9H151.2V1819.7H148.3V1822.6H145.5V1825.4H142.6Z"/>
<path fill="#ff0000" d="M142.6 1695.8H148.3V1692.9H151.2V1695.8H154V1698.6H159.7V1695.8H165.4V1692.9H168.3V1698.6H171.1V1695.8H179.7V1698.6H188.2V1695.8H205.3V1698.6H208.2V1695.8H213.9V1692.9H228.2V1695.8H231V1692.9H236.7V1690H239.6V1687.2H242.4V1690H251V1687.2H268.1V1684.4H273.8V1687.2H279.5V1684.4H282.3V1687.2H285.2V1684.4H310.9V1681.5H313.7V1684.4H319.4V1681.5H325.1V1684.4H328V1681.5H359.3V1678.7H373.6V1675.8H376.5V1678.7H390.7V1675.8H399.3V1670.1H402.1V1673H407.8V1675.8H427.8V1673H433.5V1675.8H444.9V1670.1H447.8V1673H450.6V1670.1H453.5V1673H456.3V1670.1H459.2V1673H464.9V1670.1H510.5V1667.2H513.4V1670.1H516.2V1667.2H519.1V1670.1H521.9V1664.4H524.8V1670.1H527.6V1667.2H544.7V1670.1H553.3V1667.2H559V1664.4H564.7V1667.2H567.5V1670.1H570.4V1667.2H573.2V1664.4H584.6V1667.2H587.5V1664.4H598.9V1661.5H604.6V1664.4H607.5V1661.5H610.3V1664.4H618.9V1661.5H621.7V1664.4H638.8V1661.5H655.9V1658.7H658.8V1661.5H670.2V1658.7H678.8V1655.9H681.6V1658.7H701.6V1655.9H704.4V1658.7H707.3V1655.9H710.1V1653H713V1655.9H724.4V1658.7H730.1V1655.9H741.5V1653H755.8V1655.9H764.3V1653H767.2V1655.9H772.9V1653H790V1655.9H798.5V1653H801.4V1655.9H807.1V1653H812.8V1650.2H838.5V1647.3H861.3V1644.5H872.7V1647.3H881.2V1650.2H884.1V1647.3H887V1644.5H895.5V1647.3H898.4V1644.5H918.3V1647.3H921.2V1644.5H935.4V1641.6H955.4V1638.8H964V1641.6H966.8V1638.8H986.8V1635.9H989.6V1638.8H992.5V1641.6H1009.6V1638.8H1012.4V1641.6H1018.1V1638.8H1021V1635.9H1023.8V1638.8H1038.1V1635.9H1041V1638.8H1043.8V1635.9H1052.4V1638.8H1055.2V1635.9H1058.1V1638.8H1066.6V1635.9H1095.1V1633H1120.8V1630.2H1123.7V1633H1137.9V1630.2H1140.8V1633H1143.6V1630.2H1152.2V1633H1155V1630.2H1169.3V1633H1172.1V1630.2H1180.7V1627.4H1183.6V1630.2H1189.3V1627.4H1197.8V1630.2H1203.5V1627.4H1206.4V1630.2H1209.2V1627.4H1234.9V1624.5H1237.7V1627.4H1240.6V1630.2H1243.4V1624.5H1246.3V1627.4H1249.1V1624.5H1252V1627.4H1269.1V1624.5H1280.5V1621.7H1283.4V1624.5H1289.1V1627.4H1291.9V1624.5H1303.3V1621.7H1320.4V1618.8H1326.1V1621.7H1334.7V1624.5H1337.6V1621.7H1366.1V1618.8H1377.5V1621.7H1383.2V1618.8H1386V1616H1394.6V1618.8H1400.3V1616H1408.9V1618.8H1417.4V1616H1420.3V1618.8H1423.1V1616H1426V1618.8H1428.8V1616H1448.8V1618.8H1457.3V1616H1468.7V1613.1H1480.2V1610.2H1483V1613.1H1497.3V1610.2H1500.1V1613.1H1511.5V1610.2H1528.6V1613.1H1531.5V1610.2H1534.3V1613.1H1542.9V1610.2H1557.2V1607.4H1560V1610.2H1568.6V1607.4H1571.4V1610.2H1577.1V1607.4H1580V1610.2H1614.2V1607.4H1634.2V1604.5H1637V1607.4H1668.4V1604.5H1671.2V1607.4H1685.5V1601.7H1691.2V1607.4H1694V1604.5H1696.9V1607.4H1699.8V1601.7H1702.6V1604.5H1725.4V1601.7H1728.3V1604.5H1736.8V1598.9H1739.7V1601.7H1742.5V1604.5H1745.4V1601.7H1751.1V1604.5H1762.5V1601.7H1773.9V1604.5H1788.2V1601.7H1791V1598.9H1793.9V1601.7H1816.7V1598.9H1819.5V1601.7H1825.2V1598.9H1830.9V1601.7H1833.8V1598.9H1845.2V1613.1H1830.9V1616H1773.9V1618.8H1759.6V1621.7H1756.8V1618.8H1748.2V1621.7H1745.4V1618.8H1736.8V1616H1731.1V1618.8H1714V1616H1711.2V1618.8H1708.3V1616H1705.5V1618.8H1702.6V1616H1699.8V1613.1H1696.9V1616H1691.2V1618.8H1676.9V1621.7H1674.1V1618.8H1659.8V1621.7H1648.4V1624.5H1645.6V1621.7H1637V1618.8H1634.2V1621.7H1628.5V1624.5H1622.7V1621.7H1611.3V1624.5H1608.5V1621.7H1605.6V1624.5H1602.8V1621.7H1597.1V1624.5H1585.7V1621.7H1582.8V1624.5H1577.1V1627.4H1574.3V1624.5H1568.6V1627.4H1565.7V1630.2H1562.9V1624.5H1557.2V1621.7H1542.9V1624.5H1531.5V1627.4H1525.8V1624.5H1522.9V1627.4H1511.5V1630.2H1508.7V1627.4H1474.4V1630.2H1468.7V1627.4H1465.9V1630.2H1451.6V1627.4H1440.2V1630.2H1434.5V1627.4H1428.8V1630.2H1417.4V1633H1411.7V1630.2H1408.9V1633H1403.2V1635.9H1400.3V1633H1397.4V1635.9H1388.9V1633H1368.9V1635.9H1366.1V1638.8H1363.2V1633H1343.3V1635.9H1340.4V1633H1331.9V1635.9H1326.1V1633H1323.3V1635.9H1309V1638.8H1300.5V1641.6H1286.2V1638.8H1263.4V1635.9H1257.7V1638.8H1240.6V1641.6H1234.9V1644.5H1232V1641.6H1220.6V1644.5H1217.8V1638.8H1206.4V1641.6H1203.5V1644.5H1200.7V1641.6H1197.8V1638.8H1195V1641.6H1189.3V1644.5H1180.7V1647.3H1177.8V1644.5H1175V1647.3H1172.1V1650.2H1169.3V1644.5H1152.2V1647.3H1149.3V1644.5H1143.6V1647.3H1140.8V1644.5H1137.9V1647.3H1132.2V1650.2H1129.4V1647.3H1120.8V1650.2H1118V1647.3H1112.3V1650.2H1080.9V1653H1078V1650.2H1066.6V1653H1063.8V1650.2H1049.5V1653H1029.5V1650.2H1026.7V1653H1018.1V1655.9H1015.3V1653H1003.9V1655.9H992.5V1653H989.6V1655.9H978.2V1653H975.4V1655.9H966.8V1653H964V1655.9H958.3V1658.7H941.1V1661.5H938.3V1658.7H926.9V1655.9H921.2V1658.7H915.5V1661.5H912.6V1658.7H904.1V1661.5H901.2V1658.7H895.5V1661.5H892.7V1664.4H889.8V1658.7H887V1661.5H884.1V1658.7H881.2V1661.5H875.5V1658.7H867V1664.4H864.1V1658.7H858.4V1661.5H849.9V1664.4H841.3V1667.2H838.5V1664.4H815.7V1661.5H810V1664.4H772.9V1667.2H750.1V1670.1H724.4V1673H721.5V1670.1H718.7V1673H701.6V1675.8H690.2V1673H687.3V1675.8H678.8V1673H675.9V1670.1H664.5V1673H653.1V1675.8H650.2V1673H641.7V1675.8H630.3V1673H627.4V1675.8H604.6V1673H601.8V1675.8H598.9V1678.7H596.1V1675.8H593.2V1678.7H590.4V1681.5H539V1684.4H536.2V1681.5H527.6V1684.4H524.8V1681.5H521.9V1684.4H501.9V1687.2H499.1V1684.4H496.2V1681.5H490.5V1684.4H484.8V1681.5H479.1V1684.4H470.6V1690H467.7V1687.2H456.3V1690H453.5V1687.2H447.8V1690H442.1V1692.9H439.2V1690H436.3V1687.2H430.6V1690H422.1V1692.9H416.4V1690H413.5V1692.9H407.8V1701.5H399.3V1692.9H390.7V1695.8H387.9V1692.9H373.6V1695.8H370.8V1692.9H367.9V1695.8H365.1V1692.9H362.2V1695.8H356.5V1692.9H353.6V1695.8H328V1698.6H319.4V1695.8H316.6V1698.6H313.7V1695.8H310.9V1698.6H305.2V1701.5H302.3V1698.6H299.5V1701.5H290.9V1698.6H285.2V1701.5H253.8V1704.3H236.7V1707.2H233.9V1704.3H228.2V1701.5H222.5V1704.3H219.6V1707.2H208.2V1710H205.3V1707.2H199.6V1710H193.9V1707.2H191.1V1712.9H188.2V1707.2H176.8V1710H159.7V1712.9H156.9V1710H154V1712.9H151.2V1710H148.3V1712.9H142.6Z"/>
<path d="M144.2 1412L1867.5 1412" stroke="#ececec" stroke-width="2.0" fill="none" style="mix-blend-mode:multiply"/>
<path d="M144.2 1852L1867.5 1852" stroke="#ececec" stroke-width="1.6" fill="none" style="mix-blend-mode:multiply"/>
<path d="M141 1407L141 1856.7" stroke="#d6d6d6" stroke-width="3.2" fill="none"/>
<path d="M1867.6 1408.4L1867.6 1855.3" stroke="#dedede" stroke-width="3.0" fill="none" style="mix-blend-mode:multiply"/>
<path d="M144.2 1406.9L144.2 1856.8" stroke="#484848" stroke-width="3.2" fill="none" style="mix-blend-mode:multiply"/>
<path d="M1870.5 1406.9L1870.5 1856.8" stroke="#444" stroke-width="3.0" fill="none"/>
<path d="M142.7 1408.4L1872 1408.4" stroke="#101010" stroke-width="2.9" fill="none"/>
<path d="M142.7 1855.3L1872 1855.3" stroke="#101010" stroke-width="2.9" fill="none"/>
<text transform="translate(144 1889.6) scale(1 1.1)" font-size="28.5" text-anchor="middle" class="k">0</text>
<text transform="translate(431.7 1889.6) scale(1 1.1)" font-size="28.5" text-anchor="middle" class="k">200</text>
<text transform="translate(719.4 1889.6) scale(1 1.1)" font-size="28.5" text-anchor="middle" class="k">400</text>
<text transform="translate(1007.1 1889.6) scale(1 1.1)" font-size="28.5" text-anchor="middle" class="k">600</text>
<text transform="translate(1294.9 1889.6) scale(1 1.1)" font-size="28.5" text-anchor="middle" class="k">800</text>
<text transform="translate(1582.6 1889.6) scale(1 1.1)" font-size="28.5" text-anchor="middle" class="k">1000</text>
<text transform="translate(1870.3 1889.6) scale(1 1.1)" font-size="28.5" text-anchor="middle" class="k">1200</text>
<text transform="translate(137.3 1420.4) scale(1 1.1)" font-size="28.5" text-anchor="end" class="k">-0.035</text>
<text transform="translate(137.3 1531.6) scale(1 1.1)" font-size="28.5" text-anchor="end" class="k">-0.04</text>
<text transform="translate(137.3 1643.2) scale(1 1.1)" font-size="28.5" text-anchor="end" class="k">-0.045</text>
<text transform="translate(137.3 1754.8) scale(1 1.1)" font-size="28.5" text-anchor="end" class="k">-0.05</text>
<text transform="translate(137.3 1866.5) scale(1 1.1)" font-size="28.5" text-anchor="end" class="k">-0.055</text>
<text transform="translate(1004.8 1381.7) scale(1 1.08)" font-size="43" text-anchor="middle" class="tt">Gyro-X without Temperature Compensation</text>
<text transform="translate(1004.5 1931.5) scale(1 1.1)" font-size="36.3" text-anchor="middle">Time [s]</text>
<text transform="translate(41.8 1632.4) rotate(-90) scale(1 1.15)" font-size="35" text-anchor="middle" letter-spacing="3">Value [rad/s]</text>
<rect x="1631.8" y="1419.2" width="229.6" height="89.2" fill="#fff"/>
<path d="M1864.2 1421.2L1864.2 1507.2" stroke="#e2e2e2" stroke-width="2.6" fill="none" style="mix-blend-mode:multiply"/>
<path d="M1630.3 1418.4L1863 1418.4" stroke="#7e7e7e" stroke-width="5.4" fill="none"/>
<path d="M1631.8 1419.2L1631.8 1508.4" stroke="#303030" stroke-width="3.0" fill="none"/>
<path d="M1861.4 1419.2L1861.4 1508.4" stroke="#444" stroke-width="3.0" fill="none"/>
<path d="M1630.3 1508.4L1863 1508.4" stroke="#181818" stroke-width="3.0" fill="none"/>
<line x1="1641.5" y1="1443.8" x2="1695" y2="1443.8" stroke="#0000ff" stroke-width="8"/>
<line x1="1641.5" y1="1484.4" x2="1695" y2="1484.4" stroke="#ff0000" stroke-width="8"/>
<text transform="translate(1701 1455.4) scale(1 1.02)" font-size="28.5" letter-spacing="-0.4" class="kb">Gyro-X</text>
<text transform="translate(1701 1496.5) scale(1 1.02)" font-size="28.5" letter-spacing="-0.3" class="kb">Mean-value</text>
</g>
<g filter="url(#b3)">
<line class="g" x1="431.7" y1="2040.3" x2="431.7" y2="2487"/>
<line class="g" x1="719.4" y1="2040.3" x2="719.4" y2="2487"/>
<line class="g" x1="1007.1" y1="2040.3" x2="1007.1" y2="2487"/>
<line class="g" x1="1294.9" y1="2040.3" x2="1294.9" y2="2487"/>
<line class="g" x1="1582.6" y1="2040.3" x2="1582.6" y2="2487"/>
<line class="g gh" x1="144" y1="2163.8" x2="1870.3" y2="2163.8"/>
<line class="g gh" x1="144" y1="2288.2" x2="1870.3" y2="2288.2"/>
<line class="g gh" x1="144" y1="2411.7" x2="1870.3" y2="2411.7"/>
<line class="t2" x1="431.7" y1="2487" x2="431.7" y2="2468"/>
<line class="t2" x1="431.7" y1="2040.3" x2="431.7" y2="2059.3"/>
<line class="t2" x1="719.4" y1="2487" x2="719.4" y2="2468"/>
<line class="t2" x1="719.4" y1="2040.3" x2="719.4" y2="2059.3"/>
<line class="t2" x1="1007.1" y1="2487" x2="1007.1" y2="2468"/>
<line class="t2" x1="1007.1" y1="2040.3" x2="1007.1" y2="2059.3"/>
<line class="t2" x1="1294.9" y1="2487" x2="1294.9" y2="2468"/>
<line class="t2" x1="1294.9" y1="2040.3" x2="1294.9" y2="2059.3"/>
<line class="t2" x1="1582.6" y1="2487" x2="1582.6" y2="2468"/>
<line class="t2" x1="1582.6" y1="2040.3" x2="1582.6" y2="2059.3"/>
<line class="t2" x1="144" y1="2163.8" x2="162" y2="2163.8"/>
<line class="t2" x1="1870.3" y1="2163.8" x2="1851.3" y2="2163.8"/>
<line class="t2" x1="144" y1="2288.2" x2="162" y2="2288.2"/>
<line class="t2" x1="1870.3" y1="2288.2" x2="1851.3" y2="2288.2"/>
<line class="t2" x1="144" y1="2411.7" x2="162" y2="2411.7"/>
<line class="t2" x1="1870.3" y1="2411.7" x2="1851.3" y2="2411.7"/>
<path fill="#0000ff" d="M142.6 2117.6H148.3V2119H151.2V2120.4H154V2123.2H156.9V2126.1H159.7V2120.4H162.6V2116.1H174V2124.7H176.8V2131.8H179.7V2129H182.5V2121.8H188.2V2126.1H199.6V2136.1H202.5V2130.4H211V2124.7H213.9V2109H219.6V2126.1H222.5V2127.5H228.2V2134.7H233.9V2133.2H236.7V2131.8H239.6V2130.4H242.4V2129H245.3V2121.8H251V2134.7H253.8V2136.1H259.5V2134.7H265.2V2137.5H268.1V2133.2H270.9V2127.5H273.8V2123.2H276.6V2121.8H282.3V2119H285.2V2120.4H288V2124.7H290.9V2133.2H293.8V2140.3H299.5V2131.8H302.3V2127.5H305.2V2126.1H308V2129H310.9V2133.2H313.7V2137.5H319.4V2136.1H322.3V2134.7H328V2137.5H336.5V2134.7H347.9V2131.8H353.6V2133.2H359.3V2136.1H362.2V2141.8H365.1V2138.9H367.9V2137.5H370.8V2134.7H373.6V2137.5H376.5V2141.8H379.3V2143.2H382.2V2146.1H385V2141.8H387.9V2137.5H390.7V2136.1H393.6V2134.7H396.4V2107.6H399.3V2064.8H405V2074.8H407.8V2116.1H410.7V2120.4H413.5V2140.3H419.2V2143.2H422.1V2147.5H424.9V2146.1H427.8V2144.6H430.6V2137.5H447.8V2136.1H450.6V2133.2H453.5V2134.7H456.3V2137.5H464.9V2138.9H467.7V2146.1H470.6V2147.5H473.4V2116.1H482V2131.8H484.8V2147.5H487.7V2144.6H490.5V2143.2H493.4V2144.6H496.2V2147.5H499.1V2146.1H501.9V2136.1H504.8V2116.1H513.4V2134.7H516.2V2141.8H521.9V2138.9H527.6V2140.3H530.5V2150.3H533.3V2154.6H536.2V2136.1H541.9V2137.5H544.7V2148.9H547.6V2153.2H550.4V2154.6H559V2148.9H561.8V2144.6H564.7V2143.2H567.5V2146.1H570.4V2147.5H573.2V2146.1H576.1V2148.9H578.9V2143.2H581.8V2137.5H587.5V2140.3H590.4V2147.5H596.1V2154.6H598.9V2143.2H601.8V2140.3H604.6V2138.9H607.5V2136.1H613.2V2146.1H616V2133.2H621.7V2134.7H624.6V2151.8H627.4V2153.2H630.3V2150.3H633.1V2147.5H641.7V2140.3H650.2V2136.1H655.9V2137.5H658.8V2148.9H664.5V2144.6H667.4V2138.9H670.2V2136.1H675.9V2141.8H678.8V2144.6H681.6V2146.1H684.5V2150.3H687.3V2143.2H690.2V2141.8H693V2144.6H695.9V2153.2H698.7V2146.1H701.6V2148.9H704.4V2146.1H707.3V2143.2H715.8V2141.8H724.4V2140.3H727.2V2137.5H730.1V2138.9H732.9V2143.2H738.7V2140.3H744.4V2138.9H747.2V2137.5H750.1V2136.1H767.2V2153.2H772.9V2147.5H775.7V2146.1H778.6V2144.6H781.4V2141.8H784.3V2138.9H790V2140.3H792.8V2150.3H795.7V2148.9H798.5V2144.6H801.4V2134.7H804.2V2127.5H807.1V2126.1H812.8V2137.5H818.5V2148.9H821.4V2137.5H827.1V2144.6H829.9V2134.7H832.8V2131.8H838.5V2144.6H841.3V2147.5H847V2138.9H849.9V2141.8H852.7V2143.2H855.6V2137.5H861.3V2147.5H864.1V2141.8H867V2140.3H875.5V2137.5H881.2V2144.6H884.1V2138.9H887V2134.7H895.5V2136.1H898.4V2138.9H901.2V2146.1H904.1V2153.2H909.8V2146.1H912.6V2138.9H915.5V2140.3H918.3V2147.5H926.9V2140.3H932.6V2144.6H935.4V2147.5H938.3V2146.1H941.1V2089.1H949.7V2117.6H952.5V2110.4H958.3V2116.1H961.1V2130.4H964V2134.7H966.8V2140.3H969.7V2137.5H972.5V2127.5H975.4V2111.8H978.2V2110.4H981.1V2109H983.9V2107.6H986.8V2121.8H989.6V2117.6H992.5V2116.1H998.2V2129H1001V2127.5H1006.7V2129H1012.4V2127.5H1015.3V2126.1H1018.1V2124.7H1023.8V2127.5H1026.7V2130.4H1029.5V2131.8H1038.1V2127.5H1041V2121.8H1046.7V2099H1055.2V2116.1H1063.8V2099H1072.3V2100.5H1075.2V2123.2H1078V2127.5H1080.9V2124.7H1083.7V2121.8H1086.6V2127.5H1089.4V2121.8H1092.3V2119H1098V2127.5H1100.8V2124.7H1103.7V2119H1106.6V2116.1H1112.3V2129H1115.1V2107.6H1120.8V2114.7H1123.7V2120.4H1126.5V2117.6H1129.4V2116.1H1140.8V2117.6H1143.6V2120.4H1152.2V2113.3H1157.9V2126.1H1163.6V2121.8H1169.3V2117.6H1172.1V2116.1H1175V2123.2H1177.8V2133.2H1180.7V2116.1H1183.6V2113.3H1189.3V2116.1H1192.1V2117.6H1197.8V2126.1H1200.7V2123.2H1203.5V2116.1H1209.2V2117.6H1212.1V2123.2H1214.9V2117.6H1217.8V2111.8H1220.6V2110.4H1226.3V2117.6H1229.2V2124.7H1232V2121.8H1234.9V2113.3H1246.3V2123.2H1249.1V2126.1H1252V2120.4H1257.7V2114.7H1260.6V2110.4H1266.3V2111.8H1269.1V2113.3H1277.7V2116.1H1286.2V2126.1H1289.1V2116.1H1291.9V2127.5H1294.8V2129H1297.6V2117.6H1300.5V2116.1H1314.7V2119H1317.6V2114.7H1320.4V2113.3H1323.3V2116.1H1326.1V2123.2H1329V2109H1331.9V2106.2H1337.6V2120.4H1343.3V2123.2H1346.1V2120.4H1349V2116.1H1357.5V2110.4H1363.2V2114.7H1368.9V2110.4H1374.6V2114.7H1377.5V2120.4H1380.3V2121.8H1391.7V2117.6H1394.6V2116.1H1397.4V2131.8H1400.3V2136.1H1403.2V2123.2H1406V2121.8H1408.9V2113.3H1411.7V2110.4H1414.6V2120.4H1417.4V2129H1420.3V2127.5H1423.1V2123.2H1426V2121.8H1431.7V2120.4H1434.5V2113.3H1445.9V2117.6H1451.6V2126.1H1454.5V2110.4H1463V2111.8H1465.9V2123.2H1471.6V2121.8H1477.3V2126.1H1480.2V2130.4H1485.9V2129H1488.7V2127.5H1494.4V2129H1497.3V2137.5H1503V2120.4H1505.8V2117.6H1508.7V2093.3H1511.5V2091.9H1517.2V2123.2H1520.1V2103.3H1522.9V2101.9H1525.8V2104.7H1528.6V2120.4H1531.5V2126.1H1534.3V2119H1537.2V2113.3H1542.9V2116.1H1545.7V2117.6H1548.6V2121.8H1554.3V2117.6H1557.2V2103.3H1560V2087.6H1568.6V2123.2H1571.4V2121.8H1577.1V2124.7H1580V2127.5H1588.5V2129H1591.4V2130.4H1594.2V2129H1597.1V2127.5H1599.9V2124.7H1602.8V2120.4H1605.6V2119H1611.3V2120.4H1614.2V2111.8H1617V2099H1622.7V2114.7H1625.6V2120.4H1631.3V2119H1634.2V2117.6H1637V2119H1639.9V2120.4H1642.7V2121.8H1645.6V2117.6H1648.4V2116.1H1651.3V2117.6H1654.1V2119H1657V2123.2H1662.7V2120.4H1665.5V2117.6H1671.2V2116.1H1674.1V2110.4H1676.9V2106.2H1679.8V2107.6H1685.5V2120.4H1688.3V2119H1696.9V2120.4H1699.8V2123.2H1705.5V2120.4H1708.3V2117.6H1711.2V2116.1H1719.7V2117.6H1722.6V2120.4H1728.3V2119H1731.1V2116.1H1734V2113.3H1736.8V2109H1742.5V2110.4H1745.4V2120.4H1751.1V2121.8H1756.8V2119H1759.6V2116.1H1771V2117.6H1773.9V2120.4H1776.8V2121.8H1779.6V2119H1782.5V2117.6H1791V2116.1H1793.9V2114.7H1796.7V2111.8H1805.3V2116.1H1808.1V2120.4H1811V2119H1816.7V2117.6H1819.5V2120.4H1822.4V2121.8H1825.2V2120.4H1828.1V2119H1830.9V2117.6H1833.8V2116.1H1836.6V2117.6H1845.2V2405.4H1842.3V2423.9H1836.6V2422.5H1833.8V2419.7H1830.9V2422.5H1828.1V2423.9H1822.4V2442.5H1819.5V2456.7H1813.8V2422.5H1808.1V2442.5H1796.7V2431.1H1793.9V2425.3H1791V2428.2H1785.3V2426.8H1782.5V2423.9H1779.6V2422.5H1776.8V2419.7H1773.9V2414H1771V2415.4H1768.2V2416.8H1759.6V2415.4H1756.8V2414H1753.9V2418.2H1751.1V2423.9H1748.2V2419.7H1745.4V2421.1H1742.5V2426.8H1739.7V2432.5H1734V2431.1H1731.1V2425.3H1728.3V2421.1H1725.4V2418.2H1722.6V2411.1H1719.7V2405.4H1716.9V2408.2H1711.2V2405.4H1708.3V2411.1H1705.5V2412.5H1696.9V2411.1H1688.3V2414H1685.5V2421.1H1682.6V2422.5H1679.8V2415.4H1676.9V2411.1H1674.1V2408.2H1671.2V2409.7H1665.5V2404H1659.8V2421.1H1657V2419.7H1654.1V2416.8H1648.4V2426.8H1642.7V2453.8H1637V2449.6H1634.2V2415.4H1631.3V2409.7H1628.5V2414H1619.9V2422.5H1617V2423.9H1611.3V2416.8H1608.5V2422.5H1605.6V2425.3H1602.8V2423.9H1599.9V2402.6H1597.1V2416.8H1594.2V2418.2H1591.4V2419.7H1582.8V2426.8H1580V2431.1H1574.3V2425.3H1571.4V2423.9H1568.6V2442.5H1565.7V2443.9H1560V2435.3H1557.2V2425.3H1554.3V2422.5H1551.5V2419.7H1548.6V2416.8H1545.7V2419.7H1542.9V2425.3H1540V2426.8H1537.2V2425.3H1534.3V2422.5H1531.5V2423.9H1528.6V2431.1H1525.8V2436.8H1522.9V2435.3H1520.1V2422.5H1517.2V2423.9H1514.4V2429.6H1511.5V2431.1H1508.7V2426.8H1505.8V2418.2H1497.3V2416.8H1494.4V2412.5H1488.7V2414H1485.9V2419.7H1483V2421.1H1477.3V2418.2H1474.4V2412.5H1471.6V2414H1468.7V2419.7H1465.9V2436.8H1463V2435.3H1460.2V2421.1H1457.3V2419.7H1454.5V2421.1H1451.6V2426.8H1448.8V2435.3H1445.9V2459.6H1443.1V2458.1H1440.2V2443.9H1437.4V2435.3H1434.5V2429.6H1431.7V2422.5H1428.8V2432.5H1426V2438.2H1423.1V2435.3H1420.3V2416.8H1417.4V2411.1H1414.6V2429.6H1408.9V2419.7H1403.2V2423.9H1397.4V2422.5H1394.6V2419.7H1391.7V2418.2H1388.9V2419.7H1386V2418.2H1383.2V2416.8H1374.6V2419.7H1371.8V2422.5H1368.9V2423.9H1366.1V2425.3H1357.5V2421.1H1354.7V2416.8H1349V2419.7H1346.1V2422.5H1343.3V2423.9H1340.4V2439.6H1337.6V2441H1331.9V2422.5H1329V2432.5H1326.1V2431.1H1323.3V2428.2H1320.4V2422.5H1317.6V2425.3H1309V2423.9H1306.2V2421.1H1303.3V2418.2H1300.5V2416.8H1297.6V2419.7H1294.8V2426.8H1289.1V2416.8H1274.8V2425.3H1272V2431.1H1263.4V2428.2H1260.6V2421.1H1257.7V2416.8H1249.1V2418.2H1246.3V2422.5H1243.4V2423.9H1240.6V2425.3H1237.7V2426.8H1234.9V2429.6H1232V2425.3H1229.2V2418.2H1226.3V2416.8H1223.5V2419.7H1220.6V2432.5H1214.9V2423.9H1209.2V2425.3H1206.4V2423.9H1203.5V2425.3H1200.7V2428.2H1197.8V2435.3H1192.1V2432.5H1189.3V2425.3H1186.4V2418.2H1183.6V2422.5H1180.7V2428.2H1177.8V2431.1H1175V2429.6H1172.1V2423.9H1163.6V2422.5H1160.7V2421.1H1157.9V2415.4H1155V2414H1146.5V2412.5H1140.8V2414H1137.9V2429.6H1135.1V2442.5H1132.2V2441H1129.4V2431.1H1126.5V2423.9H1120.8V2425.3H1118V2423.9H1115.1V2418.2H1112.3V2432.5H1109.4V2429.6H1106.6V2419.7H1103.7V2418.2H1100.8V2406.8H1098V2414H1083.7V2415.4H1080.9V2422.5H1078V2433.9H1075.2V2439.6H1072.3V2442.5H1069.5V2441H1066.6V2433.9H1063.8V2439.6H1058.1V2432.5H1055.2V2429.6H1049.5V2431.1H1046.7V2435.3H1043.8V2433.9H1041V2425.3H1038.1V2419.7H1035.3V2425.3H1032.4V2429.6H1026.7V2418.2H1023.8V2416.8H1015.3V2415.4H1012.4V2422.5H1009.6V2426.8H1006.7V2425.3H1003.9V2412.5H998.2V2428.2H989.6V2425.3H986.8V2432.5H983.9V2431.1H981.1V2418.2H978.2V2414H975.4V2415.4H972.5V2416.8H969.7V2415.4H966.8V2418.2H964V2426.8H958.3V2421.1H955.4V2423.9H952.5V2441H949.7V2458.1H944V2433.9H941.1V2412.5H938.3V2411.1H935.4V2412.5H932.6V2406.8H929.7V2409.7H926.9V2415.4H924V2412.5H921.2V2409.7H918.3V2405.4H915.5V2404H912.6V2402.6H909.8V2405.4H906.9V2411.1H904.1V2416.8H898.4V2411.1H892.7V2425.3H887V2415.4H884.1V2412.5H881.2V2396.8H878.4V2394H872.7V2396.8H869.8V2412.5H864.1V2408.2H861.3V2404H841.3V2405.4H835.6V2408.2H832.8V2406.8H829.9V2405.4H827.1V2402.6H824.2V2401.1H821.4V2404H818.5V2406.8H815.7V2411.1H812.8V2408.2H810V2405.4H807.1V2404H804.2V2402.6H801.4V2399.7H798.5V2395.4H795.7V2405.4H792.8V2414H790V2415.4H784.3V2406.8H781.4V2399.7H778.6V2401.1H775.7V2404H772.9V2402.6H770V2396.8H767.2V2398.3H764.3V2402.6H761.5V2404H758.6V2405.4H755.8V2401.1H752.9V2396.8H750.1V2395.4H747.2V2396.8H744.4V2402.6H735.8V2401.1H732.9V2395.4H724.4V2399.7H721.5V2411.1H715.8V2398.3H710.1V2401.1H707.3V2404H704.4V2405.4H698.7V2401.1H695.9V2396.8H693V2399.7H690.2V2398.3H687.3V2395.4H684.5V2394H681.6V2395.4H678.8V2396.8H675.9V2398.3H673.1V2401.1H670.2V2411.1H667.4V2414H664.5V2412.5H661.7V2406.8H658.8V2398.3H655.9V2405.4H650.2V2402.6H647.4V2396.8H644.5V2401.1H641.7V2399.7H638.8V2394H636V2399.7H633.1V2402.6H630.3V2404H627.4V2405.4H624.6V2402.6H621.7V2398.3H616V2402.6H613.2V2409.7H610.3V2412.5H604.6V2406.8H601.8V2402.6H598.9V2401.1H596.1V2399.7H593.2V2398.3H590.4V2392.6H584.6V2394H581.8V2395.4H578.9V2398.3H576.1V2399.7H573.2V2405.4H570.4V2408.2H567.5V2401.1H564.7V2398.3H561.8V2395.4H553.3V2396.8H550.4V2402.6H547.6V2414H544.7V2418.2H539V2401.1H536.2V2398.3H533.3V2401.1H530.5V2405.4H524.8V2401.1H519.1V2404H516.2V2415.4H513.4V2446.7H510.5V2448.2H504.8V2404H501.9V2401.1H499.1V2398.3H496.2V2396.8H490.5V2404H487.7V2422.5H482V2416.8H479.1V2414H476.3V2412.5H473.4V2405.4H470.6V2398.3H467.7V2402.6H464.9V2404H462V2405.4H456.3V2402.6H453.5V2398.3H450.6V2399.7H444.9V2395.4H442.1V2392.6H439.2V2395.4H436.3V2401.1H433.5V2402.6H430.6V2401.1H419.2V2402.6H416.4V2405.4H410.7V2412.5H407.8V2466.7H399.3V2433.9H396.4V2423.9H393.6V2421.1H390.7V2416.8H387.9V2415.4H382.2V2406.8H379.3V2408.2H370.8V2404H367.9V2405.4H365.1V2406.8H362.2V2411.1H359.3V2412.5H353.6V2411.1H350.8V2412.5H345.1V2414H339.4V2418.2H336.5V2422.5H330.8V2411.1H328V2415.4H325.1V2419.7H322.3V2418.2H319.4V2416.8H313.7V2408.2H310.9V2412.5H308V2418.2H302.3V2409.7H299.5V2408.2H296.6V2409.7H293.8V2412.5H290.9V2415.4H288V2421.1H285.2V2426.8H282.3V2428.2H279.5V2425.3H276.6V2415.4H273.8V2414H270.9V2412.5H268.1V2411.1H259.5V2408.2H251V2411.1H248.1V2414H245.3V2416.8H242.4V2423.9H239.6V2426.8H236.7V2419.7H233.9V2409.7H231V2419.7H228.2V2422.5H222.5V2418.2H219.6V2442.5H216.8V2441H213.9V2416.8H211V2409.7H208.2V2411.1H205.3V2415.4H202.5V2419.7H196.8V2418.2H191.1V2414H188.2V2411.1H179.7V2415.4H176.8V2419.7H174V2421.1H171.1V2425.3H168.3V2431.1H165.4V2429.6H162.6V2423.9H159.7V2415.4H156.9V2416.8H154V2419.7H151.2V2423.9H148.3V2426.8H145.5V2429.6H142.6Z"/>
<path fill="#ff0000" d="M142.6 2285.7H154V2288.6H159.7V2285.7H168.3V2288.6H179.7V2291.4H191.1V2288.6H196.8V2291.4H213.9V2288.6H228.2V2291.4H236.7V2288.6H239.6V2285.7H242.4V2288.6H251V2285.7H259.5V2288.6H265.2V2285.7H282.3V2288.6H285.2V2285.7H288V2288.6H293.8V2285.7H299.5V2288.6H308V2285.7H313.7V2288.6H319.4V2285.7H322.3V2288.6H328V2285.7H333.7V2288.6H339.4V2285.7H342.2V2288.6H359.3V2285.7H362.2V2288.6H365.1V2285.7H379.3V2288.6H382.2V2285.7H387.9V2288.6H390.7V2285.7H399.3V2280H402.1V2282.8H407.8V2288.6H424.9V2285.7H430.6V2288.6H444.9V2285.7H496.2V2288.6H510.5V2285.7H513.4V2288.6H516.2V2285.7H519.1V2288.6H521.9V2282.8H524.8V2288.6H530.5V2285.7H539V2288.6H559V2285.7H564.7V2288.6H567.5V2291.4H570.4V2288.6H596.1V2285.7H604.6V2288.6H607.5V2285.7H613.2V2288.6H627.4V2291.4H630.3V2288.6H638.8V2285.7H641.7V2288.6H655.9V2285.7H658.8V2288.6H670.2V2285.7H678.8V2282.8H681.6V2288.6H701.6V2285.7H704.4V2288.6H707.3V2285.7H710.1V2282.8H713V2285.7H724.4V2288.6H738.7V2285.7H750.1V2282.8H752.9V2285.7H755.8V2288.6H804.2V2291.4H807.1V2288.6H812.8V2285.7H818.5V2288.6H821.4V2285.7H832.8V2288.6H835.6V2285.7H864.1V2282.8H869.8V2285.7H875.5V2288.6H878.4V2285.7H881.2V2288.6H884.1V2285.7H895.5V2288.6H898.4V2282.8H901.2V2285.7H918.3V2288.6H921.2V2285.7H952.5V2282.8H958.3V2285.7H966.8V2282.8H969.7V2285.7H975.4V2282.8H978.2V2285.7H983.9V2282.8H989.6V2285.7H995.3V2288.6H1009.6V2285.7H1012.4V2288.6H1018.1V2285.7H1026.7V2288.6H1029.5V2285.7H1058.1V2288.6H1066.6V2285.7H1083.7V2288.6H1092.3V2285.7H1109.4V2282.8H1112.3V2285.7H1120.8V2282.8H1123.7V2285.7H1137.9V2282.8H1140.8V2285.7H1143.6V2282.8H1146.5V2285.7H1169.3V2288.6H1172.1V2285.7H1189.3V2282.8H1197.8V2285.7H1220.6V2282.8H1223.5V2285.7H1234.9V2282.8H1237.7V2285.7H1240.6V2288.6H1243.4V2282.8H1246.3V2285.7H1249.1V2282.8H1252V2285.7H1260.6V2288.6H1263.4V2285.7H1280.5V2282.8H1286.2V2285.7H1289.1V2288.6H1291.9V2285.7H1303.3V2282.8H1320.4V2280H1326.1V2282.8H1329V2285.7H1368.9V2282.8H1374.6V2285.7H1383.2V2282.8H1408.9V2285.7H1417.4V2282.8H1420.3V2285.7H1431.7V2282.8H1445.9V2285.7H1451.6V2288.6H1457.3V2285.7H1463V2282.8H1465.9V2285.7H1468.7V2282.8H1477.3V2285.7H1480.2V2280H1483V2282.8H1488.7V2285.7H1494.4V2282.8H1497.3V2280H1500.1V2285.7H1505.8V2282.8H1508.7V2285.7H1511.5V2282.8H1528.6V2285.7H1531.5V2282.8H1534.3V2285.7H1542.9V2282.8H1562.9V2285.7H1565.7V2282.8H1574.3V2285.7H1577.1V2282.8H1582.8V2285.7H1617V2282.8H1637V2285.7H1651.3V2282.8H1657V2285.7H1665.5V2282.8H1671.2V2285.7H1674.1V2282.8H1676.9V2285.7H1685.5V2280H1691.2V2285.7H1694V2282.8H1696.9V2285.7H1699.8V2280H1702.6V2282.8H1722.6V2285.7H1725.4V2282.8H1728.3V2285.7H1734V2282.8H1736.8V2280H1739.7V2282.8H1782.5V2285.7H1785.3V2282.8H1791V2280H1793.9V2282.8H1799.6V2280H1802.4V2282.8H1816.7V2280H1819.5V2282.8H1825.2V2280H1830.9V2282.8H1833.8V2280H1842.3V2282.8H1845.2V2294.2H1842.3V2297.1H1836.6V2294.2H1830.9V2297.1H1779.6V2294.2H1776.8V2297.1H1773.9V2300H1768.2V2297.1H1759.6V2300H1756.8V2297.1H1751.1V2300H1742.5V2297.1H1734V2294.2H1731.1V2297.1H1728.3V2300H1725.4V2297.1H1708.3V2294.2H1705.5V2297.1H1702.6V2294.2H1699.8V2291.4H1696.9V2294.2H1691.2V2297.1H1676.9V2300H1674.1V2297.1H1654.1V2300H1645.6V2297.1H1642.7V2300H1639.9V2297.1H1631.3V2300H1617V2297.1H1611.3V2300H1608.5V2297.1H1605.6V2300H1599.9V2297.1H1597.1V2300H1585.7V2297.1H1580V2300H1565.7V2302.8H1562.9V2300H1557.2V2297.1H1548.6V2294.2H1542.9V2297.1H1531.5V2300H1525.8V2297.1H1522.9V2300H1514.4V2297.1H1511.5V2302.8H1508.7V2300H1491.6V2297.1H1488.7V2300H1485.9V2297.1H1474.4V2300H1468.7V2297.1H1465.9V2300H1451.6V2297.1H1445.9V2294.2H1443.1V2297.1H1431.7V2294.2H1428.8V2297.1H1423.1V2300H1420.3V2297.1H1417.4V2300H1411.7V2297.1H1408.9V2300H1394.6V2302.8H1391.7V2300H1380.3V2297.1H1371.8V2300H1366.1V2302.8H1363.2V2300H1360.4V2297.1H1343.3V2300H1340.4V2297.1H1329V2300H1326.1V2297.1H1323.3V2300H1320.4V2297.1H1317.6V2300H1311.9V2297.1H1309V2300H1303.3V2302.8H1286.2V2300H1280.5V2297.1H1274.8V2300H1269.1V2297.1H1254.9V2300H1249.1V2297.1H1240.6V2300H1234.9V2302.8H1232V2300H1223.5V2297.1H1220.6V2300H1217.8V2297.1H1203.5V2300H1200.7V2297.1H1189.3V2300H1180.7V2302.8H1177.8V2300H1175V2302.8H1172.1V2305.7H1169.3V2300H1132.2V2302.8H1129.4V2300H1120.8V2302.8H1118V2300H1112.3V2302.8H1095.1V2300H1089.4V2302.8H1086.6V2300H1080.9V2305.7H1078V2300H1066.6V2302.8H1063.8V2300H1046.7V2302.8H1043.8V2300H1041V2302.8H1032.4V2300H1021V2302.8H1012.4V2300H1003.9V2302.8H995.3V2300H983.9V2302.8H981.1V2300H958.3V2302.8H941.1V2305.7H938.3V2302.8H932.6V2300H924V2297.1H921.2V2300H918.3V2302.8H912.6V2300H895.5V2302.8H889.8V2300H872.7V2297.1H867V2302.8H864.1V2297.1H858.4V2300H849.9V2302.8H838.5V2300H829.9V2302.8H827.1V2300H821.4V2302.8H818.5V2300H815.7V2297.1H812.8V2300H787.1V2297.1H784.3V2300H778.6V2297.1H775.7V2300H767.2V2302.8H764.3V2300H750.1V2302.8H741.5V2300H732.9V2302.8H701.6V2305.7H695.9V2302.8H678.8V2300H673.1V2297.1H664.5V2300H653.1V2302.8H650.2V2300H636V2302.8H633.1V2300H621.7V2302.8H618.9V2300H604.6V2297.1H598.9V2300H590.4V2302.8H578.9V2305.7H576.1V2302.8H567.5V2300H561.8V2302.8H559V2300H550.4V2302.8H536.2V2300H533.3V2302.8H524.8V2300H521.9V2302.8H499.1V2300H487.7V2302.8H484.8V2300H470.6V2305.7H467.7V2302.8H456.3V2305.7H453.5V2302.8H442.1V2305.7H436.3V2300H430.6V2302.8H413.5V2305.7H410.7V2302.8H407.8V2311.3H399.3V2302.8H390.7V2305.7H387.9V2302.8H370.8V2300H367.9V2302.8H365.1V2300H362.2V2302.8H356.5V2300H353.6V2302.8H345.1V2300H339.4V2302.8H336.5V2300H328V2302.8H319.4V2300H316.6V2302.8H313.7V2300H305.2V2302.8H290.9V2300H285.2V2302.8H279.5V2300H276.6V2302.8H268.1V2300H253.8V2302.8H231V2300H219.6V2302.8H208.2V2305.7H205.3V2302.8H191.1V2305.7H188.2V2302.8H185.4V2300H174V2302.8H159.7V2305.7H156.9V2300H154V2305.7H151.2V2300H148.3V2302.8H142.6Z"/>
<path d="M139.4 2038.5L1870.5 2038.5" stroke="#b8b8b8" stroke-width="3.0" fill="none"/>
<path d="M141 2040L141 2488.4" stroke="#d6d6d6" stroke-width="3.2" fill="none"/>
<path d="M1867.6 2041.4L1867.6 2487" stroke="#dedede" stroke-width="3.0" fill="none" style="mix-blend-mode:multiply"/>
<path d="M144.2 2039.9L144.2 2488.5" stroke="#484848" stroke-width="3.2" fill="none" style="mix-blend-mode:multiply"/>
<path d="M1870.5 2039.9L1870.5 2488.5" stroke="#444" stroke-width="3.0" fill="none"/>
<path d="M142.7 2041.4L1872 2041.4" stroke="#444" stroke-width="3.0" fill="none"/>
<path d="M139.4 2487L1872 2487" stroke="#7c7c7c" stroke-width="5.6" fill="none"/>
<text transform="translate(144 2522) scale(1 1.1)" font-size="28.5" text-anchor="middle" class="k">0</text>
<text transform="translate(431.7 2522) scale(1 1.1)" font-size="28.5" text-anchor="middle" class="k">200</text>
<text transform="translate(719.4 2522) scale(1 1.1)" font-size="28.5" text-anchor="middle" class="k">400</text>
<text transform="translate(1007.1 2522) scale(1 1.1)" font-size="28.5" text-anchor="middle" class="k">600</text>
<text transform="translate(1294.9 2522) scale(1 1.1)" font-size="28.5" text-anchor="middle" class="k">800</text>
<text transform="translate(1582.6 2522) scale(1 1.1)" font-size="28.5" text-anchor="middle" class="k">1000</text>
<text transform="translate(1870.3 2522) scale(1 1.1)" font-size="28.5" text-anchor="middle" class="k">1200</text>
<text transform="translate(137.3 2051.9) scale(1 1.1)" font-size="28.5" text-anchor="end" class="k">10</text>
<text transform="translate(137.3 2175.4) scale(1 1.1)" font-size="28.5" text-anchor="end" class="k">5</text>
<text transform="translate(137.3 2299.8) scale(1 1.1)" font-size="28.5" text-anchor="end" class="k">0</text>
<text transform="translate(137.3 2423.3) scale(1 1.1)" font-size="28.5" text-anchor="end" class="k">-5</text>
<text transform="translate(1004.8 2013.3) scale(1 1.08)" font-size="43" text-anchor="middle" class="tt">Gyro-X with Temperature Compensation</text>
<text transform="translate(1004.5 2563.4) scale(1 1.1)" font-size="36.3" text-anchor="middle">Time [s]</text>
<text transform="translate(91.4 2264.3) rotate(-90) scale(1 1.15)" font-size="35" text-anchor="middle" letter-spacing="3">Value [rad/s]</text>
<text transform="translate(145 2031.8) scale(1 1.1)" font-size="28.5" class="k">x 10</text>
<text transform="translate(199.5 2010.8) scale(1 1.1)" font-size="19" class="k">-3</text>
<rect x="1631.8" y="2050.5" width="229.6" height="89.2" fill="#fff"/>
<path d="M1864.2 2052.5L1864.2 2138.5" stroke="#e2e2e2" stroke-width="2.6" fill="none" style="mix-blend-mode:multiply"/>
<path d="M1633 2053.3L1860 2053.3" stroke="#d2d2d2" stroke-width="2.6" fill="none"/>
<path d="M1630.3 2050.5L1863 2050.5" stroke="#2c2c2c" stroke-width="3.0" fill="none"/>
<path d="M1631.8 2050.5L1631.8 2139.7" stroke="#303030" stroke-width="3.0" fill="none"/>
<path d="M1861.4 2050.5L1861.4 2139.7" stroke="#444" stroke-width="3.0" fill="none"/>
<path d="M1630.3 2139.7L1863 2139.7" stroke="#181818" stroke-width="3.0" fill="none"/>
<line x1="1641.5" y1="2075.1" x2="1695" y2="2075.1" stroke="#0000ff" stroke-width="8"/>
<line x1="1641.5" y1="2115.7" x2="1695" y2="2115.7" stroke="#ff0000" stroke-width="8"/>
<text transform="translate(1701 2086.7) scale(1 1.02)" font-size="28.5" letter-spacing="-0.4" class="kb">Gyro-X</text>
<text transform="translate(1701 2127.8) scale(1 1.02)" font-size="28.5" letter-spacing="-0.3" class="kb">Mean-value</text>
</g>
<text class="cap" x="946.5" y="1274" font-size="84" text-anchor="middle">(<tspan font-weight="bold">a</tspan>)</text>
<text class="cap" x="946.5" y="2724.2" font-size="75.5" text-anchor="middle" letter-spacing="1.2">(<tspan font-weight="bold">b</tspan>)</text>
</svg></body></html>
